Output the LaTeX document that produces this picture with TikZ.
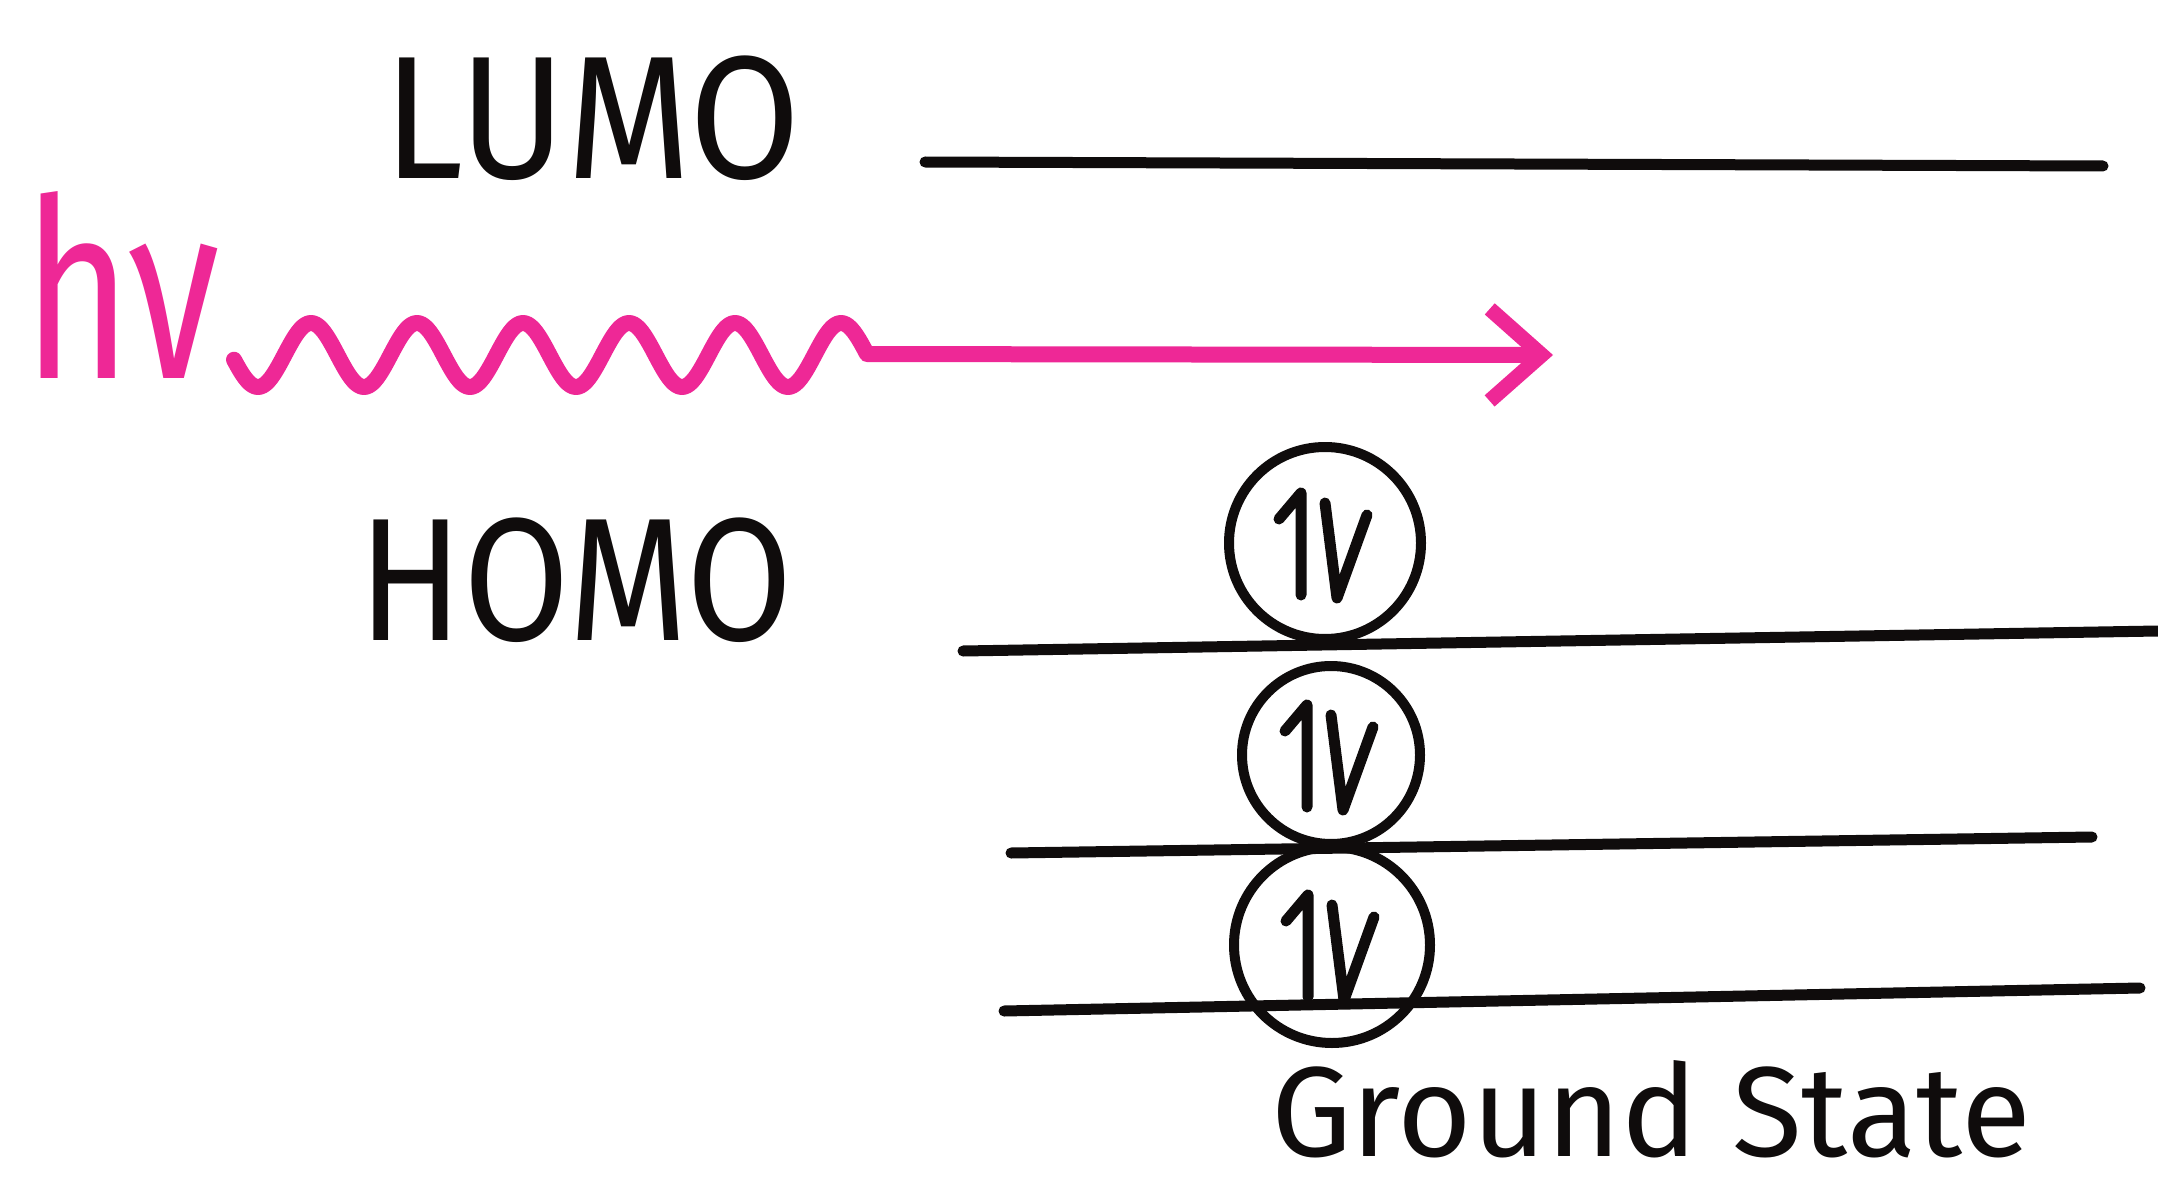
\documentclass[tikz,border=0pt]{standalone}
\usepackage{fontspec}
\setmainfont{Fira Sans}
\usetikzlibrary{arrows.meta}
\definecolor{hvpink}{RGB}{238,40,150}
\definecolor{ink}{RGB}{15,12,12}
\begin{document}
\begin{tikzpicture}[x=1pt,y=-1pt,
  level/.style={draw=ink,line width=11pt,line cap=round},
  orb/.style={circle,draw=ink,line width=10pt,inner sep=0pt},
  spin/.style={draw=ink,line width=11pt,line cap=round,line join=round},
  lbl/.style={inner sep=0pt,anchor=base,text=ink}]
\useasboundingbox (0,0) rectangle (2158,1193);
\fill[white] (0,0) rectangle (2158,1193);
% labels
\node[lbl] (lumo) at (592,179) {\fontsize{175}{175}\selectfont\scalebox{0.92}[1]{LUMO}};
\node[lbl] (homo) at (576,640) {\fontsize{175}{175}\selectfont\scalebox{0.88}[1]{HOMO}};
\node[lbl] (gs) at (1651,1156) {\fontsize{128}{128}\selectfont Ground State};
\node[lbl,text=hvpink] (hv) at (122,378) {\fontsize{250}{250}\selectfont\scalebox{0.74}[1]{hν}};
% levels
\coordinate (la) at (925,162); \coordinate (lb) at (2103,166);
\coordinate (ha) at (963,651); \coordinate (hb) at (2158,631);
\coordinate (ma) at (1011,853); \coordinate (mb) at (2092,837);
\coordinate (ga) at (1004,1011); \coordinate (gb) at (2140,988);
\draw[level] (la) -- (lb);
\draw[level] (ha) -- (hb);
\draw[level] (ma) -- (mb);
\draw[level] (ga) -- (gb);
% orbitals
\node[orb,minimum size=192pt] (c1) at (1325,543) {};
\node[orb,minimum size=178pt] (c2) at (1331,755) {};
\node[orb,minimum size=196pt] (c3) at (1332,945) {};
\foreach \c in {c1,c2,c3}{
  \draw[spin] ([shift={(-24,52)}]\c.center) -- ([shift={(-24,-50)}]\c.center) -- ([shift={(-46,-24)}]\c.center);
  \draw[spin] ([shift={(0,-40)}]\c.center) -- ([shift={(12,55)}]\c.center) -- ([shift={(42,-28)}]\c.center);
}
% photon
\coordinate (tip) at (1553,355);
\draw[hvpink,line width=16pt,line cap=round,line join=round,
  -{Straight Barb[length=52pt,width=92pt,line width=15pt]}]
  plot[domain=234:867,samples=240] (\x,{355+32*cos(3.39623*(\x-258))}) -- (tip);
\end{tikzpicture}
\end{document}
